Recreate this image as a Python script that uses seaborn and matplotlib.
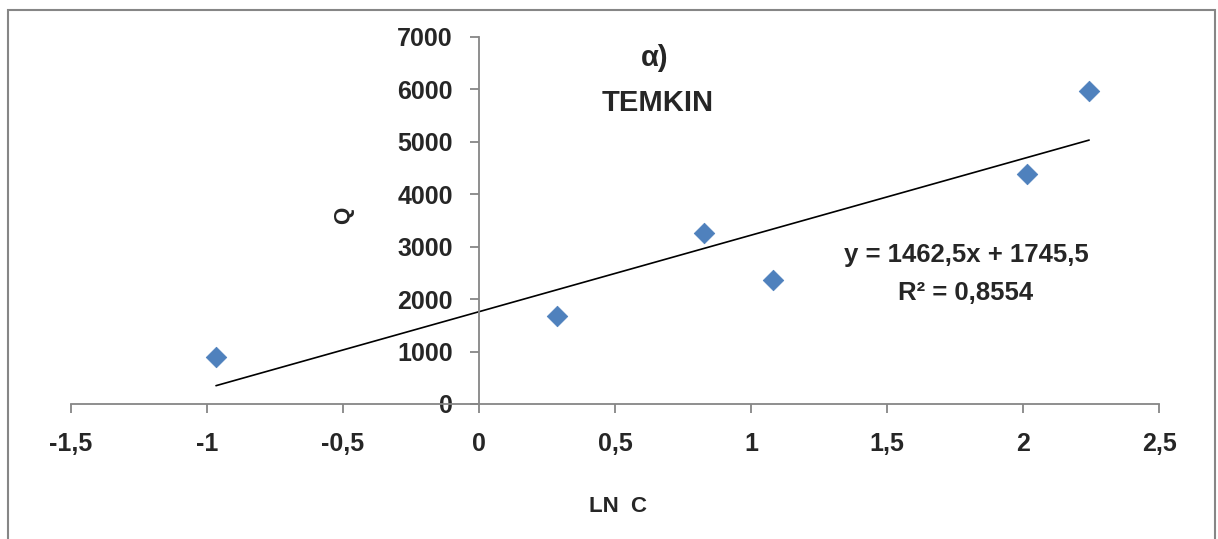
import numpy as np
import pandas as pd
import matplotlib
matplotlib.use("Agg")
import matplotlib.pyplot as plt
import seaborn as sns
from matplotlib.patches import Rectangle

# Data (ln C vs Q)
ln_c = [-0.967, 0.287, 0.827, 1.081, 2.015, 2.243]
q_values = [897, 1679, 3263, 2366, 4389, 5973]

x_ticks = [-1.5, -1, -0.5, 0, 0.5, 1, 1.5, 2, 2.5]
x_tick_labels = ["-1,5", "-1", "-0,5", "0", "0,5", "1", "1,5", "2", "2,5"]
y_ticks = [0, 1000, 2000, 3000, 4000, 5000, 6000, 7000]

equation_text = "y = 1462,5x + 1745,5"
r2_text = "R² = 0,8554"

sns.set_style("white")
plt.rcParams["font.family"] = ["Liberation Sans", "DejaVu Sans"]
plt.rcParams["font.weight"] = "bold"

df = pd.DataFrame({"LN C": ln_c, "Q": q_values})

fig = plt.figure(figsize=(12.18, 5.39), dpi=100)
ax = fig.add_axes([0.0583, 0.2505, 0.8933, 0.6809])

sns.regplot(
    data=df, x="LN C", y="Q", ax=ax, ci=None, truncate=True,
    marker="D",
    scatter_kws={"s": 110, "color": "#4F81BD", "edgecolor": "#4A7EBB",
                 "linewidths": 0.5, "zorder": 3, "alpha": 1},
    line_kws={"color": "black", "linewidth": 1.2, "zorder": 2},
)

ax.set_xlim(-1.5, 2.5)
ax.set_ylim(0, 7000)

# Excel-style axes crossing at the origin
ax.spines["left"].set_position(("data", 0))
ax.spines["bottom"].set_position(("data", 0))
ax.spines["right"].set_visible(False)
ax.spines["top"].set_visible(False)
for s in ["left", "bottom"]:
    ax.spines[s].set_color("#868686")
    ax.spines[s].set_linewidth(1.3)

ax.set_xticks(x_ticks)
ax.set_xticklabels(x_tick_labels)
ax.set_yticks(y_ticks)
ax.tick_params(axis="both", direction="out", length=6.5, width=1.3,
               color="#868686", labelsize=18, bottom=True, left=True)
ax.tick_params(axis="x", pad=14)
ax.tick_params(axis="y", pad=12.5)
for lbl in ax.get_xticklabels() + ax.get_yticklabels():
    lbl.set_fontweight("bold")

ax.set_xlabel("")
ax.set_ylabel("")

fig.text(618 / 1218, 1 - 507 / 539, "LN  C", ha="center", va="center",
         fontsize=16, fontweight="bold")
fig.text(344 / 1218, 1 - 215 / 539, "Q", ha="center", va="center",
         rotation=90, fontsize=16, fontweight="bold")

fig.text(655 / 1218, 1 - 58 / 539, "α)", ha="center", va="center",
         fontsize=21, fontweight="bold")
fig.text(658 / 1218, 1 - 103 / 539, "TEMKIN", ha="center", va="center",
         fontsize=21, fontweight="bold")

fig.text(966 / 1218, 1 - 255 / 539, equation_text, ha="center", va="center",
         fontsize=18.5, fontweight="bold")
fig.text(966 / 1218, 1 - 293 / 539, r2_text, ha="center", va="center",
         fontsize=18.5, fontweight="bold")

# outer chart frame
fig.patches.append(Rectangle((8 / 1218, -0.05), (1215 - 8) / 1218, 1.05 - 10 / 539,
                             transform=fig.transFigure, fill=False,
                             edgecolor="#868686", linewidth=1.5))

fig.savefig("out.png", dpi=100)
